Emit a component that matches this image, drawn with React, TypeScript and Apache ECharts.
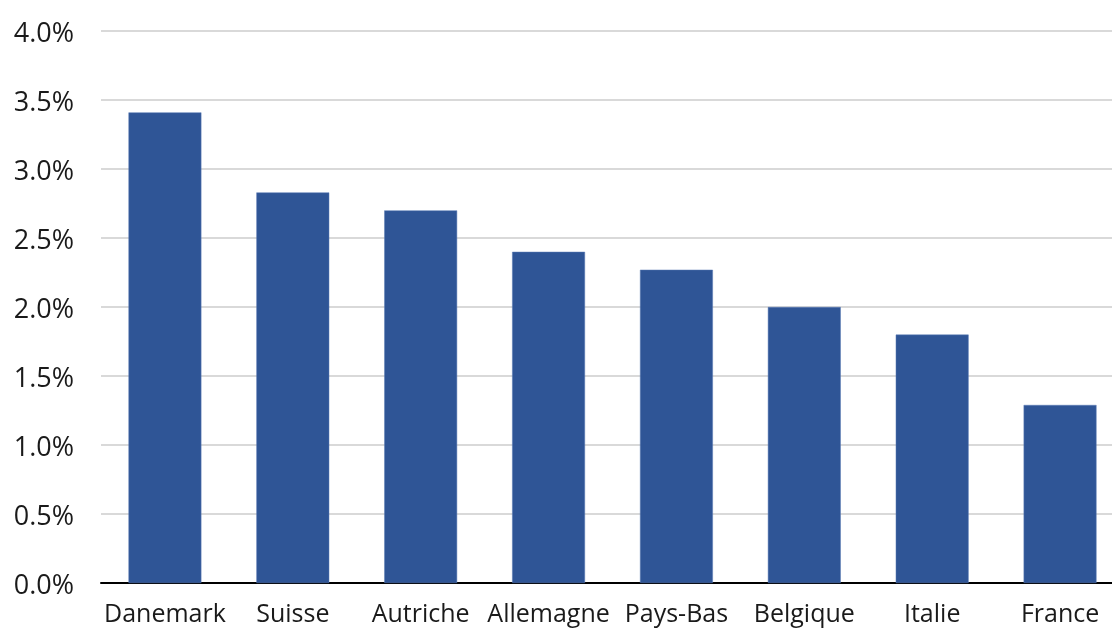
import React, { useEffect, useRef } from "react";
import * as echarts from "echarts";

const categories = ["Danemark", "Suisse", "Autriche", "Allemagne", "Pays-Bas", "Belgique", "Italie", "France"];
const values = [3.41, 2.83, 2.7, 2.4, 2.27, 2.0, 1.8, 1.29];
const yTicks = { min: 0, max: 4, interval: 0.5 };

export default function App() {
  const ref = useRef<HTMLDivElement>(null);
  useEffect(() => {
    if (!ref.current) return;
    const chart = echarts.init(ref.current, null, { renderer: "svg" });
    chart.setOption({
      animation: false,
      grid: { left: 101, right: 0, top: 31, bottom: 46, containLabel: false },
      xAxis: {
        type: "category",
        data: categories,
        axisLine: { show: true, lineStyle: { color: "#000", width: 2 } },
        axisTick: { show: false },
        axisLabel: {
          color: "#1a1a1a",
          fontSize: 25,
          fontFamily: "Open Sans",
          margin: 16,
          interval: 0,
        },
      },
      yAxis: {
        type: "value",
        min: yTicks.min,
        max: yTicks.max,
        interval: yTicks.interval,
        axisLine: { show: false },
        axisTick: { show: false },
        splitLine: { lineStyle: { color: "#d9d9d9", width: 2 } },
        axisLabel: {
          color: "#1a1a1a",
          fontSize: 27,
          fontFamily: "Open Sans",
          margin: 27,
          formatter: (v: number) => v.toFixed(1) + "%",
        },
      },
      series: [
        {
          type: "bar",
          data: values,
          barWidth: "57%",
          itemStyle: { color: "#2F5596", borderColor: "#5a7bb5", borderWidth: 0.5 },
        },
      ],
    });
    return () => chart.dispose();
  }, []);
  return (
    <div style={{ position: "fixed", left: 0, top: 0, width: 1112, height: 629, overflow: "hidden" }}>
      <div ref={ref} style={{ width: 1124, height: 629 }} />
    </div>
  );
}
